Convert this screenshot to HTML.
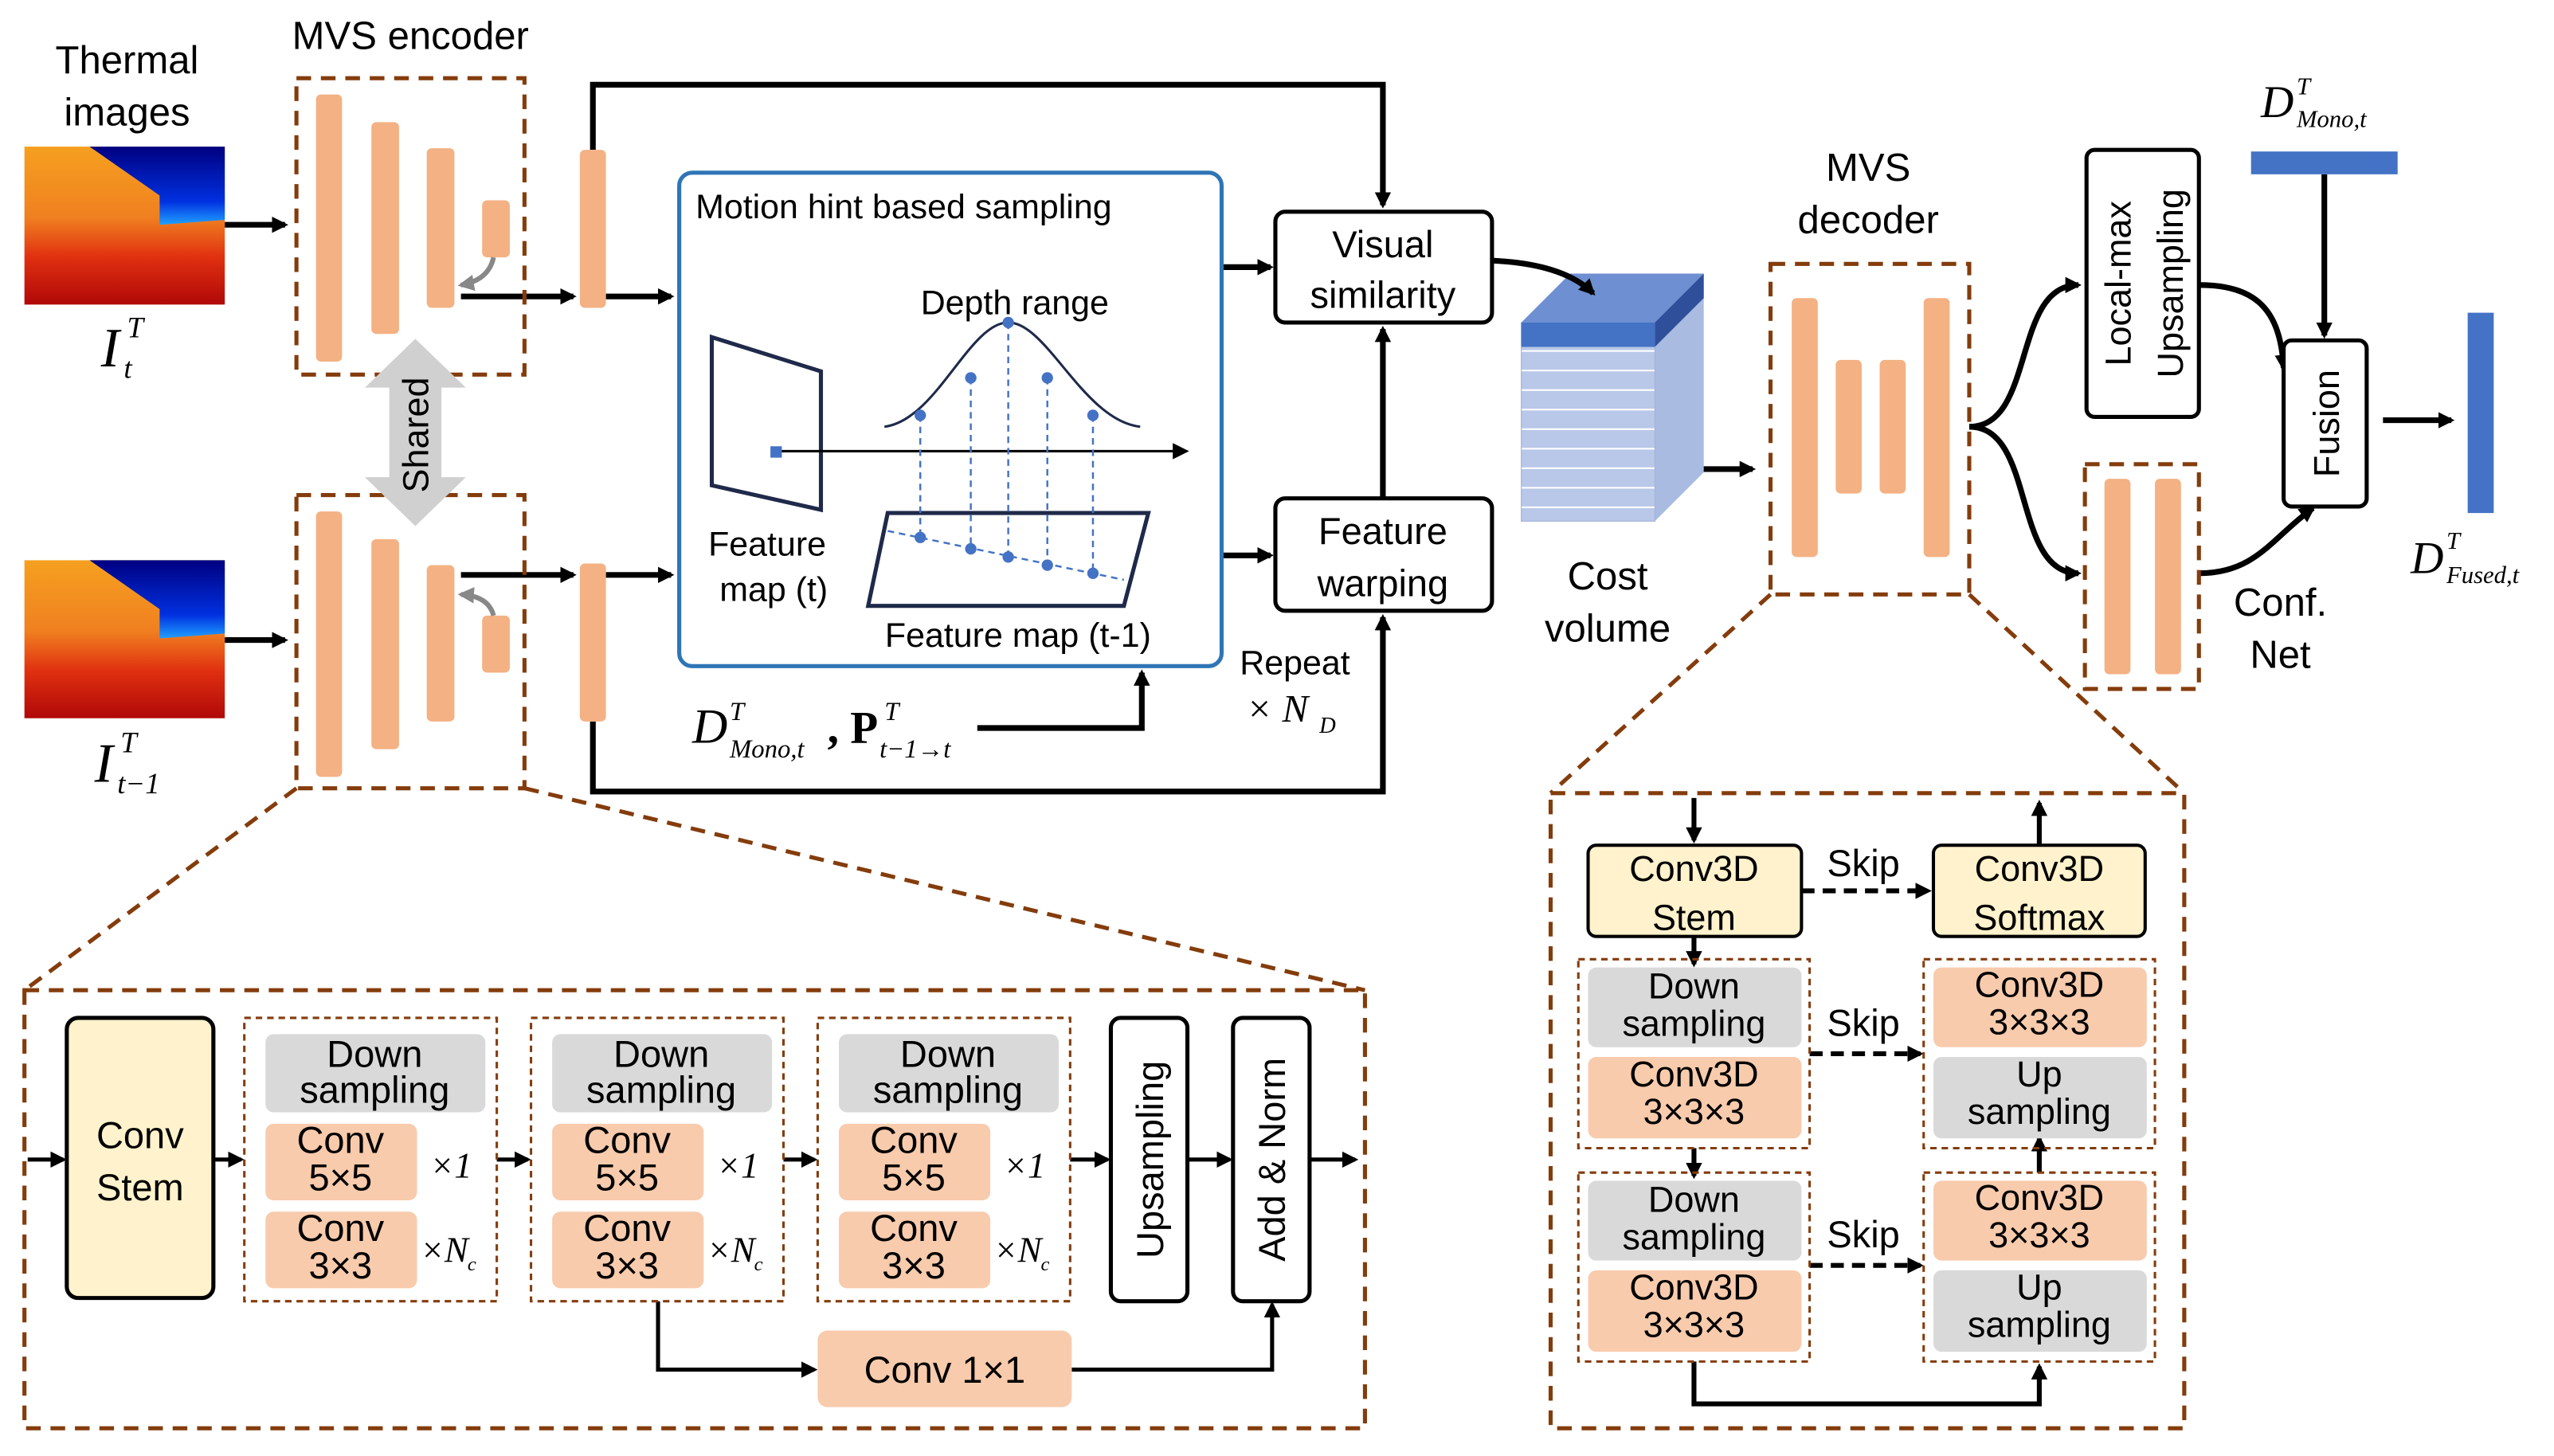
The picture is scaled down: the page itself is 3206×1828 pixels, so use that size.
<!DOCTYPE html>
<html><head><meta charset="utf-8"><style>
html,body{margin:0;padding:0;background:#fff;}
svg{display:block;}
text{font-family:"Liberation Sans",sans-serif;fill:#000;}
.m{font-family:"Liberation Serif",serif;font-style:italic;}
</style></head><body>
<svg width="3206" height="1828" viewBox="0 0 1568 894" xmlns="http://www.w3.org/2000/svg">
<defs>
<marker id="a" markerWidth="10" markerHeight="10" refX="8" refY="5" orient="auto" markerUnits="userSpaceOnUse"><path d="M0,0 L10,5 L0,10 z" fill="#000"/></marker>
<marker id="g" markerWidth="10" markerHeight="10" refX="8" refY="5" orient="auto" markerUnits="userSpaceOnUse"><path d="M0,0 L10,5 L0,10 z" fill="#888"/></marker>
<linearGradient id="th" x1="0" y1="0" x2="0" y2="1">
<stop offset="0" stop-color="#f5a020"/><stop offset="0.45" stop-color="#f08020"/><stop offset="0.7" stop-color="#e03010"/><stop offset="1" stop-color="#b00808"/></linearGradient>
<linearGradient id="sky" x1="0" y1="0" x2="0" y2="1"><stop offset="0" stop-color="#000080"/><stop offset="0.7" stop-color="#0030e0"/><stop offset="1" stop-color="#20a0ff"/></linearGradient>
<pattern id="st" width="10" height="12" patternUnits="userSpaceOnUse"><rect width="10" height="12" fill="#b9c8e8"/><line x1="0" y1="11.5" x2="10" y2="11.5" stroke="#fff" stroke-width="1"/></pattern>
</defs>
<g id="th1">
<rect x="15" y="90" width="123" height="97" fill="url(#th)"/>
<polygon points="55,90 138,90 138,135 98,138 98,120" fill="url(#sky)"/>
</g>
<use href="#th1" y="254"/>
<text x="78" y="45" font-size="24" text-anchor="middle">Thermal</text>
<text x="78" y="77" font-size="24" text-anchor="middle">images</text>
<text x="62" y="225" font-size="34" class="m">I</text><text x="78" y="207" font-size="18" class="m">T</text><text x="76" y="232" font-size="18" class="m">t</text>
<text x="58" y="480" font-size="34" class="m">I</text><text x="74" y="462" font-size="18" class="m">T</text><text x="72" y="487" font-size="18" class="m">t−1</text>
<text x="252" y="30" font-size="24" text-anchor="middle">MVS encoder</text>
<g stroke="#000" stroke-width="3.5" fill="none">
<line x1="138" y1="138" x2="175" y2="138" marker-end="url(#a)"/>
<line x1="138" y1="393" x2="175" y2="393" marker-end="url(#a)"/>
<line x1="283" y1="182" x2="352" y2="182" marker-end="url(#a)"/>
<line x1="283" y1="353" x2="352" y2="353" marker-end="url(#a)"/>
<line x1="372" y1="182" x2="412" y2="182" marker-end="url(#a)"/>
<line x1="372" y1="353" x2="412" y2="353" marker-end="url(#a)"/>
<polyline points="364,92 364,52 849,52 849,126" marker-end="url(#a)"/>
<polyline points="364,443 364,486 849,486 849,379" marker-end="url(#a)"/>
<line x1="750" y1="164" x2="780" y2="164" marker-end="url(#a)"/>
<line x1="750" y1="341" x2="780" y2="341" marker-end="url(#a)"/>
<line x1="849" y1="306" x2="849" y2="202" marker-end="url(#a)"/>
<polyline points="600,447 701,447 701,413" marker-end="url(#a)"/>
<line x1="1027" y1="288" x2="1076" y2="288" marker-end="url(#a)"/>
<path d="M1209,262 C1250,262 1235,175 1276,175" marker-end="url(#a)"/>
<path d="M1209,262 C1250,262 1235,352 1276,352" marker-end="url(#a)"/>
<path d="M1350,175 C1385,175 1400,190 1402,226" marker-end="url(#a)"/>
<path d="M1350,352 C1385,352 1395,330 1420,312" marker-end="url(#a)"/>
<line x1="1427" y1="107" x2="1427" y2="206" marker-end="url(#a)"/>
<line x1="1463" y1="258" x2="1505" y2="258" marker-end="url(#a)"/>
</g>
<g fill="none" stroke="#843c0c" stroke-width="2.5" stroke-dasharray="9,6">
<rect x="182" y="48" width="140" height="182"/>
<rect x="182" y="304" width="140" height="180"/>
<rect x="1087" y="162" width="122" height="203"/>
<rect x="1280" y="285" width="70" height="138"/>
<rect x="15" y="608" width="823" height="269"/>
<rect x="952" y="487" width="389" height="390"/>
<line x1="182" y1="484" x2="15" y2="608"/><line x1="322" y1="484" x2="838" y2="608"/>
<line x1="1087" y1="365" x2="952" y2="487"/><line x1="1209" y1="365" x2="1341" y2="487"/>
</g>
<g fill="#f4b183">
<rect x="194" y="58" width="16" height="164" rx="3"/><rect x="228" y="75" width="17" height="130" rx="3"/><rect x="262" y="91" width="17" height="98" rx="3"/><rect x="296" y="123" width="17" height="35" rx="3"/>
<rect x="194" y="314" width="16" height="163" rx="3"/><rect x="228" y="331" width="17" height="129" rx="3"/><rect x="262" y="347" width="17" height="96" rx="3"/><rect x="296" y="378" width="17" height="35" rx="3"/>
<rect x="356" y="92" width="16" height="97" rx="3"/><rect x="356" y="346" width="16" height="97" rx="3"/>
<rect x="1100" y="183" width="16" height="159" rx="3"/><rect x="1127" y="221" width="16" height="82" rx="3"/><rect x="1154" y="221" width="16" height="82" rx="3"/><rect x="1181" y="183" width="16" height="159" rx="3"/>
<rect x="1292" y="294" width="16" height="120" rx="3"/><rect x="1323" y="294" width="16" height="120" rx="3"/>
</g>
<path d="M303,158 Q300,172 283,175" stroke="#888" stroke-width="3" fill="none" marker-end="url(#g)"/>
<path d="M303,378 Q300,366 283,365" stroke="#888" stroke-width="3" fill="none" marker-end="url(#g)"/>
<polygon points="255,208 286,238 271,238 271,293 286,293 255,323 224,293 239,293 239,238 224,238" fill="#d0d0d0"/>
<text transform="translate(263,267) rotate(-90)" font-size="22" text-anchor="middle">Shared</text>
<rect x="417" y="106" width="333" height="303" rx="8" fill="none" stroke="#2e75b6" stroke-width="2.5"/>
<text x="427" y="134" font-size="21">Motion hint based sampling</text>
<polygon points="437,207 504,228 504,313 437,298" fill="none" stroke="#1f2a4a" stroke-width="2.5"/>
<line x1="476" y1="277" x2="728" y2="277" stroke="#000" stroke-width="1.5" marker-end="url(#a)"/>
<rect x="473" y="274" width="7" height="7" fill="#4472c4"/>
<path d="M543,262 C575,258 595,198 619,198 C643,198 665,258 700,262" fill="none" stroke="#1f2a4a" stroke-width="1.5"/>
<polygon points="545,315 705,315 690,372 533,372" fill="none" stroke="#1f2a4a" stroke-width="2.5"/>
<g stroke="#4472c4" stroke-width="1.2" stroke-dasharray="4,3">
<line x1="565" y1="255" x2="565" y2="330"/><line x1="596" y1="232" x2="596" y2="337"/><line x1="619" y1="198" x2="619" y2="342"/><line x1="643" y1="232" x2="643" y2="347"/><line x1="671" y1="255" x2="671" y2="352"/>
<line x1="545" y1="326" x2="690" y2="356"/>
</g>
<g fill="#4472c4"><circle cx="565" cy="255" r="3.5"/><circle cx="596" cy="232" r="3.5"/><circle cx="619" cy="198" r="3.5"/><circle cx="643" cy="232" r="3.5"/><circle cx="671" cy="255" r="3.5"/>
<circle cx="565" cy="330" r="3.5"/><circle cx="596" cy="337" r="3.5"/><circle cx="619" cy="342" r="3.5"/><circle cx="643" cy="347" r="3.5"/><circle cx="671" cy="352" r="3.5"/></g>
<text x="623" y="193" font-size="21" text-anchor="middle">Depth range</text>
<text x="471" y="341" font-size="21" text-anchor="middle">Feature</text>
<text x="475" y="369" font-size="21" text-anchor="middle">map (t)</text>
<text x="625" y="397" font-size="21" text-anchor="middle">Feature map (t-1)</text>
<text x="425" y="456" font-size="30" class="m">D</text><text x="448" y="442" font-size="16" class="m">T</text><text x="448" y="465" font-size="16" class="m">Mono,t</text>
<text x="508" y="456" font-size="28" style="font-family:'Liberation Serif',serif;font-weight:bold">, P</text><text x="543" y="442" font-size="16" class="m">T</text><text x="540" y="465" font-size="16" class="m">t−1→t</text>
<text x="795" y="414" font-size="21" text-anchor="middle">Repeat</text>
<text x="765" y="443" font-size="24" class="m">× N</text><text x="810" y="450" font-size="14" class="m">D</text>
<rect x="783" y="130" width="133" height="68" rx="6" fill="#fff" stroke="#000" stroke-width="2.5"/>
<text x="849" y="158" font-size="23" text-anchor="middle">Visual</text><text x="849" y="189" font-size="23" text-anchor="middle">similarity</text>
<rect x="783" y="306" width="133" height="69" rx="6" fill="#fff" stroke="#000" stroke-width="2.5"/>
<text x="849" y="334" font-size="23" text-anchor="middle">Feature</text><text x="849" y="366" font-size="23" text-anchor="middle">warping</text>
<rect x="934" y="198" width="82" height="122" fill="url(#st)" stroke="#9aaad0" stroke-width="0.5"/>
<rect x="934" y="198" width="82" height="15" fill="#4472c4"/>
<polygon points="1016,198 1046,168 1046,290 1016,320" fill="#a9bbe0"/>
<polygon points="934,198 964,168 1046,168 1016,198" fill="#6e8fd2"/>
<polygon points="1016,198 1046,168 1046,183 1016,213" fill="#2f4f9a"/>
<path d="M916,160 Q960,162 978,180" stroke="#000" stroke-width="3.5" fill="none" marker-end="url(#a)"/>
<text x="987" y="362" font-size="24" text-anchor="middle">Cost</text><text x="987" y="394" font-size="24" text-anchor="middle">volume</text>
<text x="1147" y="111" font-size="24" text-anchor="middle">MVS</text><text x="1147" y="143" font-size="24" text-anchor="middle">decoder</text>
<rect x="1281" y="92" width="69" height="164" rx="5" fill="#fff" stroke="#000" stroke-width="2.5"/>
<text transform="translate(1308,174) rotate(-90)" font-size="22" text-anchor="middle">Local-max</text>
<text transform="translate(1340,174) rotate(-90)" font-size="22" text-anchor="middle">Upsampling</text>
<text x="1400" y="378" font-size="24" text-anchor="middle">Conf.</text><text x="1400" y="410" font-size="24" text-anchor="middle">Net</text>
<rect x="1402" y="209" width="51" height="102" rx="5" fill="#fff" stroke="#000" stroke-width="2.5"/>
<text transform="translate(1436,260) rotate(-90)" font-size="22" text-anchor="middle">Fusion</text>
<text x="1388" y="72" font-size="28" class="m">D</text><text x="1410" y="58" font-size="15" class="m">T</text><text x="1410" y="78" font-size="15" class="m">Mono,t</text>
<rect x="1382" y="93" width="90" height="14" fill="#4472c4"/>
<rect x="1515" y="192" width="16" height="123" fill="#4472c4"/>
<text x="1480" y="352" font-size="28" class="m">D</text><text x="1502" y="337" font-size="15" class="m">T</text><text x="1502" y="358" font-size="15" class="m">Fused,t</text>
<g stroke="#000" stroke-width="2.5" fill="none">
<line x1="17" y1="712" x2="39" y2="712" marker-end="url(#a)"/>
<line x1="131" y1="712" x2="148" y2="712" marker-end="url(#a)"/>
<line x1="305" y1="712" x2="324" y2="712" marker-end="url(#a)"/>
<line x1="481" y1="712" x2="500" y2="712" marker-end="url(#a)"/>
<line x1="657" y1="712" x2="680" y2="712" marker-end="url(#a)"/>
<line x1="729" y1="712" x2="755" y2="712" marker-end="url(#a)"/>
<line x1="804" y1="712" x2="832" y2="712" marker-end="url(#a)"/>
<polyline points="404,799 404,841 500,841" marker-end="url(#a)"/>
<polyline points="658,841 781,841 781,801" marker-end="url(#a)"/>
</g>
<rect x="41" y="625" width="90" height="172" rx="7" fill="#fff2cc" stroke="#000" stroke-width="2.5"/>
<text x="86" y="705" font-size="23" text-anchor="middle">Conv</text><text x="86" y="737" font-size="23" text-anchor="middle">Stem</text>
<g id="grp">
<rect x="150" y="625" width="155" height="174" fill="none" stroke="#843c0c" stroke-width="1.5" stroke-dasharray="4,3"/>
<rect x="163" y="635" width="135" height="48" rx="5" fill="#d9d9d9"/>
<text x="230" y="655" font-size="23" text-anchor="middle">Down</text><text x="230" y="677" font-size="23" text-anchor="middle">sampling</text>
<rect x="163" y="690" width="93" height="47" rx="5" fill="#f8cbad"/>
<text x="209" y="708" font-size="23" text-anchor="middle">Conv</text><text x="209" y="731" font-size="23" text-anchor="middle">5×5</text>
<rect x="163" y="744" width="93" height="47" rx="5" fill="#f8cbad"/>
<text x="209" y="762" font-size="23" text-anchor="middle">Conv</text><text x="209" y="785" font-size="23" text-anchor="middle">3×3</text>
<text x="264" y="723" font-size="22" class="m">×1</text>
<text x="258" y="775" font-size="22" class="m">×N</text><text x="287" y="780" font-size="12" class="m">c</text>
</g>
<use href="#grp" x="176"/><use href="#grp" x="352"/>
<rect x="682" y="625" width="47" height="174" rx="6" fill="#fff" stroke="#000" stroke-width="2.5"/>
<text transform="translate(714,712) rotate(-90)" font-size="23" text-anchor="middle">Upsampling</text>
<rect x="757" y="625" width="47" height="174" rx="6" fill="#fff" stroke="#000" stroke-width="2.5"/>
<text transform="translate(789,712) rotate(-90)" font-size="23" text-anchor="middle">Add &amp; Norm</text>
<rect x="502" y="817" width="156" height="47" rx="6" fill="#f8cbad"/>
<text x="580" y="849" font-size="23" text-anchor="middle">Conv 1×1</text>
<g stroke="#000" stroke-width="3" fill="none">
<line x1="1040" y1="490" x2="1040" y2="516" marker-end="url(#a)"/>
<line x1="1252" y1="519" x2="1252" y2="493" marker-end="url(#a)"/>
<line x1="1040" y1="575" x2="1040" y2="592" marker-end="url(#a)"/>
<line x1="1040" y1="705" x2="1040" y2="722" marker-end="url(#a)"/>
<line x1="1252" y1="720" x2="1252" y2="699" marker-end="url(#a)"/>
<polyline points="1040,836 1040,862 1252,862 1252,839" marker-end="url(#a)"/>
<line x1="1106" y1="547" x2="1184" y2="547" stroke-dasharray="8,5" marker-end="url(#a)"/>
<line x1="1111" y1="647" x2="1179" y2="647" stroke-dasharray="8,5" marker-end="url(#a)"/>
<line x1="1111" y1="777" x2="1179" y2="777" stroke-dasharray="8,5" marker-end="url(#a)"/>
</g>
<text x="1144" y="538" font-size="23" text-anchor="middle">Skip</text>
<text x="1144" y="636" font-size="23" text-anchor="middle">Skip</text>
<text x="1144" y="766" font-size="23" text-anchor="middle">Skip</text>
<rect x="975" y="519" width="131" height="56" rx="5" fill="#fff2cc" stroke="#000" stroke-width="2"/>
<text x="1040" y="541" font-size="22" text-anchor="middle">Conv3D</text><text x="1040" y="571" font-size="22" text-anchor="middle">Stem</text>
<rect x="1187" y="519" width="130" height="56" rx="5" fill="#fff2cc" stroke="#000" stroke-width="2"/>
<text x="1252" y="541" font-size="22" text-anchor="middle">Conv3D</text><text x="1252" y="571" font-size="22" text-anchor="middle">Softmax</text>
<g id="rowL">
<rect x="969" y="589" width="142" height="116" fill="none" stroke="#843c0c" stroke-width="1.5" stroke-dasharray="4,3"/>
<rect x="975" y="594" width="131" height="49" rx="5" fill="#d9d9d9"/>
<text x="1040" y="613" font-size="22" text-anchor="middle">Down</text><text x="1040" y="636" font-size="22" text-anchor="middle">sampling</text>
<rect x="975" y="649" width="131" height="50" rx="5" fill="#f8cbad"/>
<text x="1040" y="667" font-size="22" text-anchor="middle">Conv3D</text><text x="1040" y="690" font-size="22" text-anchor="middle">3×3×3</text>
</g>
<use href="#rowL" y="131"/>
<g id="rowR">
<rect x="1181" y="589" width="142" height="116" fill="none" stroke="#843c0c" stroke-width="1.5" stroke-dasharray="4,3"/>
<rect x="1187" y="594" width="131" height="49" rx="5" fill="#f8cbad"/>
<text x="1252" y="612" font-size="22" text-anchor="middle">Conv3D</text><text x="1252" y="635" font-size="22" text-anchor="middle">3×3×3</text>
<rect x="1187" y="649" width="131" height="50" rx="5" fill="#d9d9d9"/>
<text x="1252" y="667" font-size="22" text-anchor="middle">Up</text><text x="1252" y="690" font-size="22" text-anchor="middle">sampling</text>
</g>
<use href="#rowR" y="131"/>
</svg>
</body></html>
